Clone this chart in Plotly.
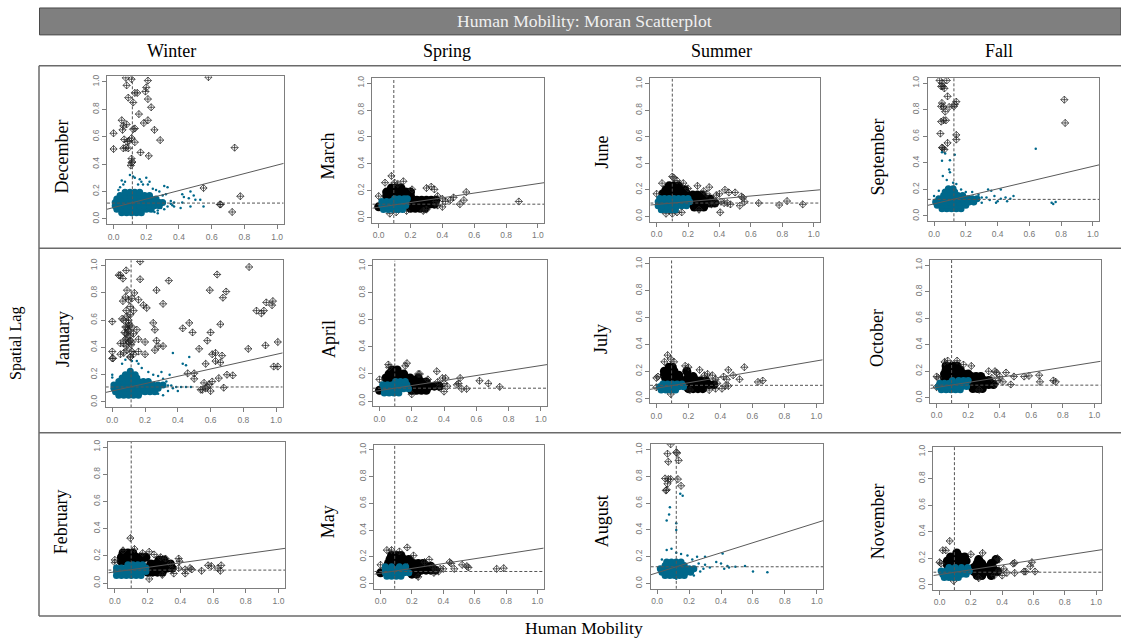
import plotly.graph_objects as go

W, H = 1121, 640
tick_vals = [0.0, 0.2, 0.4, 0.6, 0.8, 1.0]
tick_text = ["0.0", "0.2", "0.4", "0.6", "0.8", "1.0"]
axis_range = [-0.04, 1.04]
title_text = "Human Mobility: Moran Scatterplot"
seasons = ["Winter", "Spring", "Summer", "Fall"]
x_title = "Human Mobility"
y_title = "Spatial Lag"

# month: mean x, mean y, regression y at left and right of the axis
stats = {
 "December": (.115, .115, .07, .405), "March": (.095, .10, .07, .26), "June": (.10, .10, .085, .20), "September": (.125, .125, .08, .385),
 "January": (.115, .11, .07, .36), "April": (.095, .095, .07, .27), "July": (.095, .095, .065, .285), "October": (.095, .095, .07, .275),
 "February": (.10, .095, .075, .255), "May": (.09, .09, .07, .265), "August": (.12, .125, .065, .47), "November": (.095, .095, .07, .265),
}

# dense clouds, y value: x values
dec_core = {.045:[.05,.08,.11,.14,.17], .07:[.02,.05,.08,.11,.14,.17,.2,.23], .095:[.01,.04,.07,.10,.13,.16,.19,.22,.25,.28], .12:[.01,.04,.07,.10,.13,.16,.19,.22,.25,.28,.3], .145:[.02,.05,.08,.11,.14,.17,.20,.23,.26], .17:[.04,.07,.10,.13,.16,.19,.22], .195:[.07,.10,.13,.16]}
jan_core = {.05:[.04,.07,.1,.13,.16], .075:[.02,.05,.08,.11,.14,.17,.2,.23,.26], .1:[.01,.04,.07,.1,.13,.16,.19,.22,.25,.28], .125:[.01,.04,.07,.1,.13,.16,.19,.22,.25,.28,.31], .15:[.04,.07,.1,.13,.16,.19,.22], .175:[.06,.09,.12,.15], .2:[.08,.11,.14], .225:[.11]}
feb_core = {.055:[.01,.04,.07,.1,.13,.16], .085:[.01,.04,.07,.10,.13,.16,.19], .11:[.01,.04,.07,.1,.13,.16,.19], .135:[.08,.11,.14,.17]}
mar_core = {.06:[.03,.06,.09,.12,.15], .09:[.02,.05,.08,.11,.14,.17], .12:[.02,.05,.08,.11,.14,.17], .14:[.10,.13,.16,.18]}
apr_core = {.06:[.03,.06,.09,.12], .09:[.03,.06,.09,.12,.15,.18], .12:[.02,.05,.08,.11,.14,.17], .145:[.10,.13,.16]}
may_core = {.055:[.04,.07,.1,.13], .08:[.03,.06,.09,.12,.15,.18], .105:[.03,.06,.09,.12,.15], .125:[.03,.07,.12,.16]}
jun_core = {.05:[.03,.06,.09,.12], .08:[.01,.04,.07,.10,.13,.16,.19], .11:[.01,.04,.07,.10,.13,.16,.19,.21], .135:[.02,.05,.08,.11,.14,.17,.20]}
jul_core = {.06:[.03,.06,.09,.12], .085:[.02,.05,.08,.11,.14,.17], .105:[.04,.07,.10,.13,.16]}
aug_core = {.06:[.05,.08,.11,.14,.17], .085:[.03,.06,.09,.12,.15,.18,.21], .11:[.02,.05,.08,.11,.14,.17,.2,.23], .135:[.05,.08,.11,.14,.17], .16:[.06,.09,.12,.15]}
sep_core = {.055:[.05,.08,.11,.14,.17], .08:[.02,.05,.08,.11,.14,.17,.2], .105:[.01,.04,.07,.10,.13,.16,.19,.22,.25], .13:[.03,.06,.09,.12,.15,.18,.21,.24,.27], .155:[.06,.09,.12,.15,.18], .18:[.07,.1,.13], .205:[.09,.12]}
oct_core = {.06:[.03,.06,.09,.12,.15], .085:[.01,.04,.07,.10,.13,.16,.19], .11:[.02,.05,.08,.11,.14,.17], .13:[.1,.14,.17,.2]}
nov_core = {.055:[.03,.06,.09,.12], .08:[.02,.05,.08,.11,.14,.17], .105:[.01,.04,.07,.10,.13,.16,.19], .13:[.06,.1,.14,.18]}

# overplotted influential clusters, y value: x values
feb_dark = {.16:[.04,.07,.10,.13,.16], .19:[.04,.07,.1,.13,.16,.19], .22:[.05,.08,.11], .08:[.2,.23,.26,.29], .11:[.2,.23,.26,.29,.32,.35], .14:[.22,.25,.28,.31,.34], .17:[.27,.3]}
mar_dark = {.16:[.05,.08,.11,.14,.17,.20], .19:[.05,.08,.11,.14,.17,.20], .22:[.08,.11,.14], .07:[.20,.23,.26,.29], .10:[.20,.23,.26,.29,.32,.35], .13:[.21,.24,.27,.30,.33,.36], .08:[0.0]}
apr_dark = {.17:[.04,.07,.10,.13,.16,.19,.24], .20:[.06,.09,.12,.15], .23:[.08,.11], .08:[0.0,.20,.23,.26,.29], .11:[.19,.22,.25,.28,.31,.34,.37], .14:[.2,.23,.26,.29]}
may_dark = {.15:[.05,.08,.11,.14,.21,.24,.27], .18:[.06,.09,.12,.15,.18], .21:[.07,.1,.13], .07:[.2,.23], .10:[.2,.23,.26,.29,.32,.35], .13:[.2,.23,.26,.29,.32], .08:[0.0]}
jun_dark = {.17:[.04,.07,.10,.13,.16,.19], .20:[.06,.09,.12,.15,.18], .23:[.08,.11,.14], .07:[.24,.27,.3], .10:[.22,.25,.28,.31,.34,.37], .13:[.22,.25,.28,.31,.34], .16:[.23,.26,.29]}
jul_dark = {.14:[.06,.09,.12,.15], .17:[.05,.08,.11,.14], .2:[.05,.08,.11,.19], .23:[.08,.1], .07:[.2,.23,.26,.29], .10:[.18,.21,.24,.27,.30,.33,.36], .13:[.19,.22,.25,.28,.31], .16:[.2,.23]}
oct_dark = {.15:[.05,.08,.11,.14], .18:[.05,.08,.11,.14,.17,.2], .21:[.06,.09,.12,.15], .24:[.06,.1,.13], .07:[.23,.26,.29], .10:[.21,.24,.27,.30,.33,.36], .13:[.21,.24,.27,.30,.33], .16:[.22,.25,.28]}
nov_dark = {.15:[.05,.08,.11,.14], .18:[.05,.08,.11,.14,.17], .21:[.07,.1,.13,.16], .24:[.11], .07:[.24,.27,.33], .10:[.22,.25,.28,.31,.34,.37], .13:[.22,.25,.28,.31,.34], .16:[.24,.27,.33], .19:[.25,.36]}

# influential points drawn one by one
dec_infl = [(0,.51),(0,.625),(.05,.72),(.055,.65),(.06,.68),(.08,.69),(.065,.58),(.06,.515),(.075,.52),(.09,.515),(.085,.565),(.095,.57),(.11,.59),(.12,.655),(.13,.66),(.13,.56),(.165,.485),(.215,.46),(.11,.41),(.11,.44),(.105,.39),(.115,.415),(.74,.52),(.285,.575),(.25,.65),(.185,.70),(.21,.72),(.155,.765),(.23,.815),(.21,.875),(.12,.85),(.09,.885),(.13,.92),(.145,.92),(.195,.93),(.2,.96),(.08,.975),(.075,1.03),(.11,1.02),(.21,1.01),(.58,1.035),(.55,.225),(.775,.165),(.65,.105),(.655,.105),(.725,.05)]
jan_infl = [(0,.59),(0,.37),(0,.32),(.005,.32),(.04,.93),(.05,.93),(.065,.905),(.085,.965),(.17,1.03),(.17,.9),(.345,.89),(.27,.82),(.31,.72),(.09,.82),(.135,.8),(.08,.77),(.12,.76),(.16,.75),(.065,.74),(.19,.71),(.21,.69),(.11,.7),(.13,.67),(.09,.63),(.07,.6),(.06,.61),(.1,.58),(.12,.55),(.08,.55),(.15,.53),(.085,.5),(.1,.52),(.13,.5),(.08,.46),(.11,.45),(.05,.43),(.07,.43),(.12,.44),(.16,.46),(.2,.44),(.07,.36),(.05,.35),(.09,.38),(.11,.33),(.13,.35),(.16,.37),(.2,.35),(.26,.38),(.28,.41),(.31,.41),(.27,.45),(.25,.58),(.26,.53),(.43,.54),(.47,.58),(.49,.51),(.53,.39),(.58,.45),(.6,.51),(.61,.35),(.63,.36),(.63,.3),(.57,.28),(.66,.29),(.67,.34),(.66,.57),(.595,.82),(.64,.935),(.675,.765),(.695,.81),(.835,.99),(.88,.67),(.91,.65),(.925,.67),(.94,.73),(.98,.74),(.975,.71),(.83,.39),(.935,.415),(1.01,.44),(.985,.26),(1.01,.26),(.46,.21),(.5,.21),(.5,.17),(.65,.175),(.7,.2),(.735,.195),(.68,.105),(.54,.09),(.57,.1),(.59,.13),(.61,.15),(.56,.14),(.6,.08),(.55,.09),(.58,.11),(.09,.55),(.095,.53),(.105,.56),(.075,.51),(.11,.49),(.09,.47),(.1,.44),(.115,.42),(.085,.41),(.1,.6),(.11,.64),(.085,.67),(.1,.75),(.11,.33),(.12,.37)]
feb_infl = [(.095,.33),(0,.17),(0,.15),(.05,.24),(.12,.25),(.17,.22),(.21,.23),(.24,.21),(.28,.19),(.31,.18),(.39,.18),(.395,.16),(.34,.14),(.36,.07),(.39,.11),(.43,.1),(.43,.07),(.46,.11),(.47,.1),(.53,.09),(.57,.13),(.59,.125),(.63,.11),(.65,.13),(.645,.09),(.35,.1),(.21,.03),(.29,.06)]
mar_infl = [(.08,.31),(.04,.26),(0,.16),(.1,.26),(.155,.27),(.12,.25),(.21,.21),(.3,.22),(.33,.23),(.35,.21),(.37,.16),(.4,.14),(.42,.12),(.47,.15),(.45,.13),(.55,.19),(.535,.13),(.51,.1),(.4,.08),(.37,.09),(.28,.05),(.3,.06),(.175,.05),(.11,.04),(.07,.03),(.88,.12),(.36,.12)]
apr_infl = [(0,.16),(.055,.27),(.06,.25),(.17,.28),(.16,.26),(.24,.2),(.25,.2),(.355,.22),(.39,.17),(.41,.17),(.4,.13),(.42,.11),(.4,.07),(.49,.13),(.48,.12),(.5,.17),(.51,.09),(.54,.09),(.62,.15),(.675,.13),(.745,.105),(.2,.05),(.3,.16),(.36,.14),(.37,.1)]
may_infl = [(.04,.25),(.07,.25),(.12,.24),(.17,.27),(0,.14),(.21,.21),(.31,.18),(.28,.16),(.33,.13),(.35,.11),(.37,.09),(.4,.11),(.44,.16),(.45,.15),(.47,.11),(.52,.14),(.55,.13),(.56,.12),(.74,.11),(.785,.115),(.24,.05),(.34,.08),(.38,.11)]
jun_infl = [(0,.17),(.035,.25),(.1,.30),(.11,.29),(.13,.27),(.17,.25),(.26,.23),(.335,.22),(.3,.19),(.38,.16),(.4,.17),(.435,.2),(.46,.18),(.5,.18),(.54,.15),(.55,.14),(.56,.11),(.53,.08),(.47,.09),(.45,.1),(.41,.11),(.405,.03),(.38,.1),(.35,.09),(.27,.05),(.06,.02),(.1,.02),(.16,.03),(.13,.03),(.65,.1),(.78,.085),(.83,.115),(.93,.09),(.43,.1),(.36,.13),(.32,.17),(.2,.21)]
jul_infl = [(.07,.32),(.09,.29),(.05,.27),(.11,.27),(0,.15),(.01,.16),(0,.08),(.09,.03),(.18,.24),(.2,.23),(.27,.21),(.32,.18),(.35,.17),(.37,.14),(.38,.11),(.42,.16),(.45,.21),(.48,.17),(.52,.14),(.55,.23),(.635,.12),(.665,.13),(.45,.09),(.43,.09),(.41,.07),(.37,.07),(.33,.06),(.21,.06),(.44,.14),(.3,.17)]
aug_infl = [(.085,1.04),(.065,.97),(.12,.98),(.125,.975),(.135,.92),(.07,.91),(.05,.785),(.07,.78),(.085,.78),(.13,.78),(.15,.73),(.065,.745),(.06,.7),(.055,.695)]
sep_infl = [(.035,1.02),(.05,1.0),(.055,.975),(.08,1.02),(.045,.975),(.065,.96),(.085,.9),(.14,.86),(.05,.85),(.06,.82),(.045,.825),(.07,.785),(.13,.84),(.125,.825),(.095,.82),(.045,.71),(.06,.72),(.075,.72),(.04,.62),(.14,.61),(.14,.575),(.085,.55),(.05,.515),(.055,.51),(.065,.5),(.82,.875),(.825,.7)]
oct_infl = [(.05,.27),(.07,.28),(.13,.28),(.17,.25),(.22,.24),(.33,.2),(.37,.2),(.38,.19),(.44,.19),(.49,.16),(.555,.16),(.585,.165),(.65,.17),(.655,.12),(.74,.13),(.755,.12),(.47,.1),(0,.16),(.01,.15),(0,.08),(.39,.13),(.42,.12),(.37,.1),(.27,.06),(.35,.15),(.4,.16)]
nov_infl = [(.065,.33),(.02,.26),(.04,.26),(0,.17),(.01,.16),(.2,.23),(.275,.24),(.37,.2),(.38,.19),(.47,.16),(.48,.165),(.59,.17),(.58,.14),(.61,.1),(.54,.1),(.55,.1),(.48,.09),(.41,.12),(.43,.09),(.4,.07),(.09,.03),(.25,.05),(.35,.07),(.38,.11)]

# loose ordinary points
dec_pts = [(.1,.32),(.12,.31),(.13,.3),(.16,.29),(.2,.3),(.05,.28),(.07,.27),(.17,.27),(.18,.25),(.21,.25),(.22,.27),(.06,.25),(.04,.23),(.03,.21),(.15,.25),(.24,.22),(.26,.21),(.28,.2),(.31,.24),(.33,.23),(.3,.17),(.32,.18),(.36,.1),(.35,.13),(.33,.09),(.31,.07),(.27,.06),(.25,.05),(.29,.08),(.37,.12),(.41,.08),(.42,.12),(.43,.16),(.42,.18),(.47,.2),(.46,.15),(.49,.17),(.5,.14),(.53,.14),(.47,.09),(.55,.09),(.35,.11),(.37,.09),(.27,.04),(.14,.04),(.04,.04)]
jan_pts = [(.08,.31),(.12,.3),(.15,.3),(.16,.28),(.18,.25),(.06,.28),(.37,.36),(.47,.33),(.43,.28),(.45,.27),(.22,.22),(.25,.2),(.28,.19),(.31,.17),(.33,.15),(.36,.12),(.39,.11),(.42,.11),(.45,.11),(.48,.11),(.4,.08),(.37,.1),(.31,.05),(.28,.06),(.34,.08),(.35,.2),(.3,.22),(0,.2),(0,.18),(.3,.13),(.34,.12)]
aug_pts = [(.06,.47),(.075,.515),(.08,.57),(.12,.45),(.12,.4),(.145,.67),(.16,.655),(.06,.25),(.09,.26),(.12,.23),(.15,.22),(.19,.21),(.3,.2),(.41,.225),(.26,.15),(.24,.1),(.27,.09),(.29,.11),(.33,.12),(.37,.16),(.4,.15),(.42,.11),(.44,.13),(.49,.125),(.55,.13),(.6,.09),(.69,.085),(.45,.12),(.03,.18),(.25,.2),(.22,.18),(.3,.14),(.23,.06),(.12,.035)]
sep_pts = [(.05,.48),(.07,.47),(.05,.415),(.1,.42),(.13,.46),(.095,.35),(.1,.33),(.08,.27),(.055,.3),(.12,.25),(.14,.24),(.17,.2),(.2,.18),(.24,.18),(.28,.16),(.3,.14),(.34,.2),(.36,.19),(.42,.2),(.33,.14),(.35,.12),(.38,.15),(.4,.11),(.42,.13),(.45,.14),(.48,.13),(.5,.15),(.46,.11),(.39,.1),(.3,.1),(.25,.09),(.64,.505),(.74,.1),(.75,.09),(.765,.105),(0,.15),(0,.1),(.03,.19)]

# month: left, right, top, bottom of the plot box in pixels, label x, label y
boxes = {
 "December": (107,283.7,74.7,223,62,155), "March": (372.3,544.3,76,221.7,328,155), "June": (650.3,820,76.7,220.3,602,151), "September": (927.7,1099.3,76,220,878,156),
 "January": (105.7,282.7,259,406.7,63,338), "April": (373,547.3,259.3,405.7,329,338), "July": (650,822.7,257.3,402.7,601,338), "October": (930.3,1100.7,258.7,402.3,877,337),
 "February": (108.3,285,441,588.3,61,522), "May": (374.3,543.7,444,588.7,328,522), "August": (650.7,823.3,443.7,588.7,602,521), "November": (933.3,1102.3,446,590,878,521),
}
data = {
 "December": (dec_core, {}, dec_infl, dec_pts), "March": (mar_core, mar_dark, mar_infl, []), "June": (jun_core, jun_dark, jun_infl, []), "September": (sep_core, {}, sep_infl, sep_pts),
 "January": (jan_core, {}, jan_infl, jan_pts), "April": (apr_core, apr_dark, apr_infl, []), "July": (jul_core, jul_dark, jul_infl, []), "October": (oct_core, oct_dark, oct_infl, []),
 "February": (feb_core, feb_dark, feb_infl, []), "May": (may_core, may_dark, may_infl, []), "August": (aug_core, {}, aug_infl, aug_pts), "November": (nov_core, nov_dark, nov_infl, []),
}

TEAL = "#00688b"
GREY = "#7d7d7d"
SERIF = "Liberation Serif"


def px(x):
    return x / W


def py(y):
    return 1 - y / H


def flat(rows):
    xs, ys = [], []
    for y, row in rows.items():
        xs += row
        ys += [y] * len(row)
    return xs, ys


fig = go.Figure()
layout = dict(
    width=W, height=H, margin=dict(l=0, r=0, t=0, b=0), autosize=False,
    paper_bgcolor="white", plot_bgcolor="white", showlegend=False,
)
for i, (month, (l, r, t, b, lx, ly)) in enumerate(boxes.items(), start=1):
    ax = dict(
        range=axis_range, tickvals=tick_vals, ticktext=tick_text, showgrid=False, zeroline=False,
        showline=True, mirror=True, linecolor=GREY, linewidth=1, ticks="outside", ticklen=4,
        tickcolor=GREY, tickfont=dict(family="Liberation Sans", size=8.5, color="#777777"),
    )
    layout[f"xaxis{i}"] = dict(ax, domain=[px(l), px(r)], anchor=f"y{i}")
    layout[f"yaxis{i}"] = dict(ax, domain=[py(b), py(t)], anchor=f"x{i}", tickangle=-90)
    xa, ya = f"x{i}", f"y{i}"
    core, dark, infl, pts = data[month]
    mx, my, y0, y1 = stats[month]

    dx, dy = flat(dark)
    fig.add_trace(go.Scatter(x=dx, y=dy, mode="markers", xaxis=xa, yaxis=ya, marker=dict(symbol="circle", size=9, color="black")))
    fig.add_trace(go.Scatter(x=[p[0] for p in infl], y=[p[1] for p in infl], mode="markers", xaxis=xa, yaxis=ya,
                             marker=dict(symbol="diamond-cross-open", size=5.5, color="rgba(30,30,30,0.8)", line=dict(width=0.9))))
    cx, cy = flat(core)
    fig.add_trace(go.Scatter(x=cx, y=cy, mode="markers", xaxis=xa, yaxis=ya, marker=dict(size=7, color=TEAL)))
    fig.add_trace(go.Scatter(x=[p[0] for p in pts], y=[p[1] for p in pts], mode="markers", xaxis=xa, yaxis=ya, marker=dict(size=2.5, color=TEAL)))
    fig.add_trace(go.Scatter(x=axis_range, y=[y0, y1], mode="lines", xaxis=xa, yaxis=ya, line=dict(color="#5a5a5a", width=1)))
    fig.add_trace(go.Scatter(x=axis_range, y=[my, my], mode="lines", xaxis=xa, yaxis=ya, line=dict(color="#555555", width=1, dash="3px,2px")))
    fig.add_trace(go.Scatter(x=[mx, mx], y=axis_range, mode="lines", xaxis=xa, yaxis=ya, line=dict(color="#555555", width=1, dash="3px,2px")))

annos = []


def text(s, x, y, size=18, color="black", angle=0):
    annos.append(dict(text=s, x=px(x), y=py(y), xref="paper", yref="paper", showarrow=False, textangle=angle,
                      xanchor="center", yanchor="middle", font=dict(family=SERIF, size=size, color=color)))


text(title_text, 584, 19, size=17.6, color="#f0f0f0")
for s, x in zip(seasons, [171, 447, 722, 999]):
    text(s, x, 49)
for month, b in boxes.items():
    text(month, b[4], b[5], angle=-90)
text(y_title, 16, 343, size=16, angle=-90)
text(x_title, 584, 628, size=17.6)

rule = dict(color="#6a6a6a", width=1.5)
shapes = [dict(type="rect", xref="paper", yref="paper", x0=px(39.5), x1=1.0, y0=py(33), y1=py(6), fillcolor="#7f7f7f", line=dict(color="#4a4a4a", width=1), layer="below")]
for y in [64, 247, 432, 616]:
    shapes.append(dict(type="line", xref="paper", yref="paper", x0=px(39), x1=1.0, y0=py(y), y1=py(y), line=rule))
shapes.append(dict(type="line", xref="paper", yref="paper", x0=px(39), x1=px(39), y0=py(64), y1=py(616), line=rule))

fig.update_layout(**layout, annotations=annos, shapes=shapes)
fig.write_html("out.html", config={"displayModeBar": False}, post_script="document.body.style.margin='0';document.body.style.overflow='hidden';")
